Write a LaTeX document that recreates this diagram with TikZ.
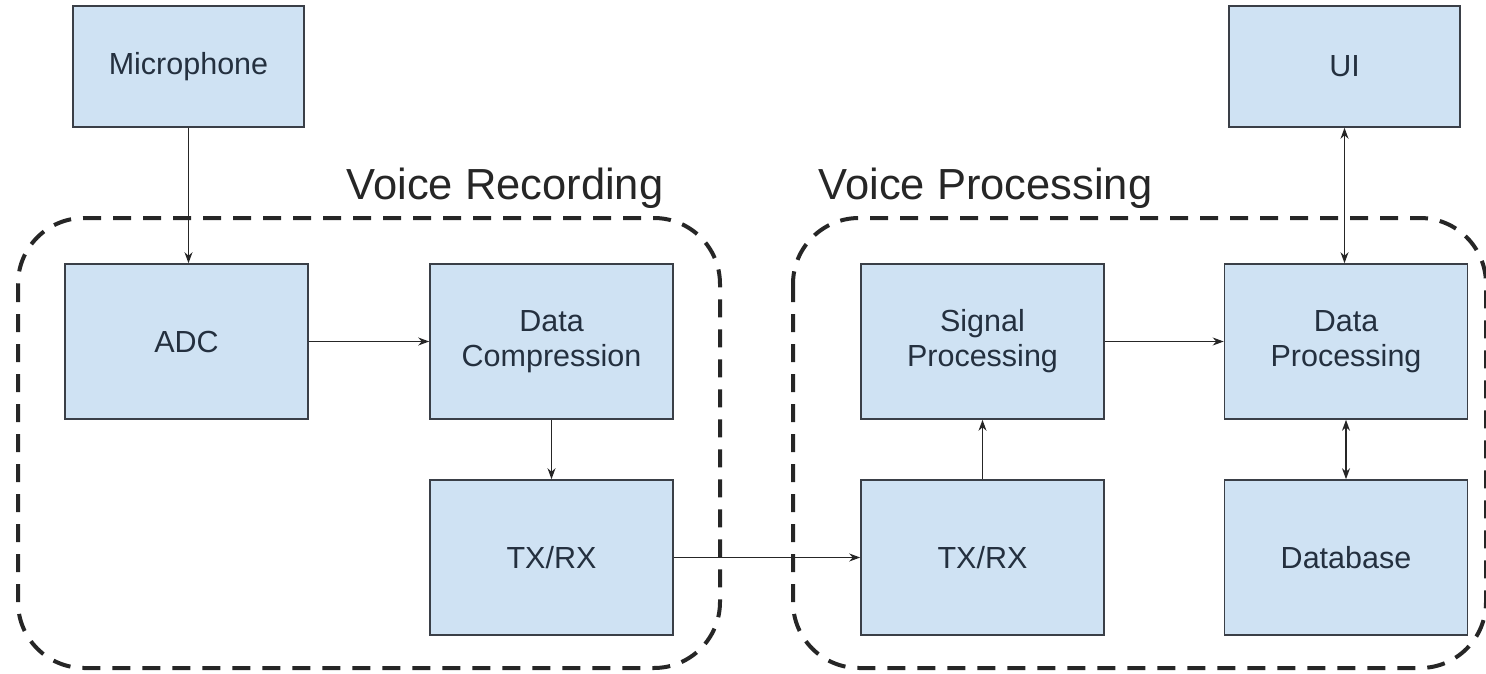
\documentclass[tikz,border=0pt]{standalone}
\usepackage{fontspec}
\setmainfont{Liberation Sans}
\usetikzlibrary{arrows.meta}
\definecolor{boxfill}{HTML}{CFE2F3}
\definecolor{boxline}{HTML}{3A3F47}
\definecolor{boxtext}{HTML}{24303F}
\tikzset{
  block/.style={draw=boxline, line width=1.6pt, fill=boxfill, text=boxtext,
    align=center, inner sep=0pt,
    font=\fontsize{30.5}{35}\selectfont},
  wide/.style={block, minimum width=243pt, minimum height=155pt},
  top/.style={block, minimum width=231pt, minimum height=121pt},
  link/.style={line width=1.4pt, draw=black!85, -{Stealth[length=11pt,width=8pt]}},
  duplex/.style={line width=1.4pt, draw=black!85, {Stealth[length=11pt,width=8pt]}-{Stealth[length=11pt,width=8pt]}},
  group/.style={line width=4pt, draw=black!85, dash pattern=on 18pt off 12pt, rounded corners=66pt},
  heading/.style={anchor=base, inner sep=0pt, text=black!85, font=\fontsize{43.5}{50}\selectfont}
}
\begin{document}
\begin{tikzpicture}[x=1pt,y=-1pt]
\useasboundingbox (0,0) rectangle (1486,674);

% dashed subsystem outlines
\draw[group] (18,218) rectangle (720,668);
\draw[group] (793,218) rectangle (1486,668);
\node[heading] (recT) at (505,200) {Voice Recording};
\node[heading] (procT) at (985.5,200) {Voice Processing};

% recording side
\node[top]  (mic) at (188.5,66.5) {Microphone};
\node[wide] (adc) at (186.5,341.5) {ADC};
\node[wide] (cmp) at (551.5,341.5) {Data\\Compression};
\node[wide] (txa) at (551.5,557.5) {TX/RX};

% processing side
\node[wide] (sig) at (982.5,341.5) {Signal\\Processing};
\node[wide] (txb) at (982.5,557.5) {TX/RX};
\node[top]  (ui)  at (1344.5,66.5) {UI};
\node[wide] (dat) at (1346,341.5) {Data\\Processing};
\node[wide] (db)  at (1346,557.5) {Database};

% signal flow
\draw[link] (mic.south) -- (mic.south |- adc.north);
\draw[link] (adc.east) -- (cmp.west);
\draw[link] (cmp.south) -- (txa.north);
\draw[link] (txa.east) -- (txb.west);
\draw[link] (txb.north) -- (sig.south);
\draw[link] (sig.east) -- (dat.west);
\draw[duplex] (ui.south) -- (ui.south |- dat.north);
\draw[duplex] (dat.south) -- (db.north);
\end{tikzpicture}
\end{document}
